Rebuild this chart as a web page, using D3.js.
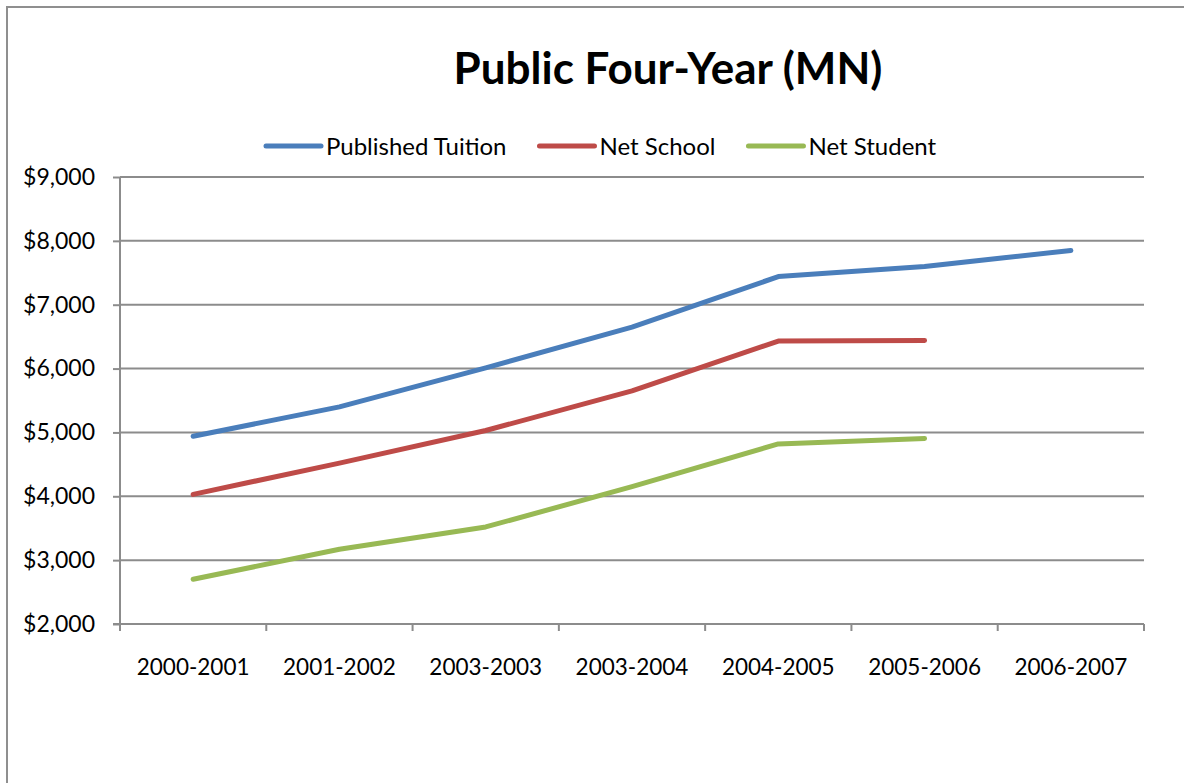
<!DOCTYPE html>
<html>
<head>
<meta charset="utf-8">
<script src="https://cdn.jsdelivr.net/npm/d3@7"></script>
<style>
  html, body { margin: 0; padding: 0; background: #fff; }
  svg { display: block; font-family: Carlito, Calibri, Lato, sans-serif; }
</style>
</head>
<body>
<svg id="chart" width="1184" height="783"></svg>
<script>
const categories = ["2000-2001", "2001-2002", "2003-2003", "2003-2004", "2004-2005", "2005-2006", "2006-2007"];
const publishedTuition = [4940, 5400, 6010, 6650, 7440, 7600, 7850];
const netSchool = [4030, 4520, 5030, 5650, 6430, 6440, null];
const netStudent = [2700, 3170, 3520, 4150, 4820, 4905, null];
const seriesNames = ["Published Tuition", "Net School", "Net Student"];
const seriesColors = ["#4A7EBB", "#BE4B48", "#98B954"];
const yTicks = [2000, 3000, 4000, 5000, 6000, 7000, 8000, 9000];
const titleText = "Public Four-Year (MN)";

const seriesValues = [publishedTuition, netSchool, netStudent];

const svg = d3.select("#chart");
const margin = { left: 120, right: 1144, top: 177, bottom: 624 };
const gridColor = "#8c8c8c";

// outer chart border (left and top visible)
svg.append("path")
  .attr("d", "M7,800 L7,7 L1200,7")
  .attr("fill", "none")
  .attr("stroke", "#8f8f8f")
  .attr("stroke-width", 2);

const x = d3.scaleBand().domain(categories).range([margin.left, margin.right]).padding(0);
const y = d3.scaleLinear().domain([2000, 9000]).range([margin.bottom, margin.top]);

// gridlines
svg.append("g").selectAll("line").data(yTicks).join("line")
  .attr("x1", margin.left).attr("x2", margin.right)
  .attr("y1", d => y(d)).attr("y2", d => y(d))
  .attr("stroke", gridColor).attr("stroke-width", 2);

// y axis
const yAxis = d3.axisLeft(y).tickValues(yTicks).tickSize(7).tickPadding(18)
  .tickFormat(d => "$" + d3.format(",")(d));
const gy = svg.append("g").attr("transform", `translate(${margin.left},0)`).call(yAxis);
gy.select(".domain").remove();
gy.selectAll(".tick line").attr("stroke", gridColor).attr("stroke-width", 2);
gy.selectAll(".tick text").attr("font-size", 23).attr("fill", "#000")
  .attr("font-family", "Lato, sans-serif");
svg.append("line")
  .attr("x1", margin.left).attr("x2", margin.left)
  .attr("y1", margin.top).attr("y2", margin.bottom + 7)
  .attr("stroke", gridColor).attr("stroke-width", 2);

// x axis
const gx = svg.append("g").attr("transform", `translate(0,${margin.bottom})`);
gx.append("line").attr("x1", margin.left - 7).attr("x2", margin.right)
  .attr("y1", 0).attr("y2", 0).attr("stroke", gridColor).attr("stroke-width", 2);
const boundaries = categories.map(c => x(c)).concat([x(categories[categories.length - 1]) + x.bandwidth()]);
gx.selectAll("line.tk").data(boundaries).join("line").attr("class", "tk")
  .attr("x1", d => d).attr("x2", d => d).attr("y1", 0).attr("y2", 7)
  .attr("stroke", gridColor).attr("stroke-width", 2);
gx.selectAll("text").data(categories).join("text")
  .attr("x", d => x(d) + x.bandwidth() / 2)
  .attr("y", 51)
  .attr("text-anchor", "middle")
  .attr("font-size", 22.5)
  .attr("font-family", "Lato, sans-serif")
  .attr("fill", "#000")
  .text(d => d);

// lines
const line = d3.line()
  .defined(d => d.v != null)
  .x(d => x(d.c) + x.bandwidth() / 2)
  .y(d => y(d.v));
seriesValues.forEach((vals, i) => {
  const data = categories.map((c, j) => ({ c, v: vals[j] }));
  svg.append("path").datum(data)
    .attr("d", line)
    .attr("fill", "none")
    .attr("stroke", seriesColors[i])
    .attr("stroke-width", 5)
    .attr("stroke-linecap", "round")
    .attr("stroke-linejoin", "round");
});

// title
svg.append("text")
  .attr("x", 668).attr("y", 84)
  .attr("text-anchor", "middle")
  .attr("font-size", 44)
  .attr("font-weight", "bold")
  .attr("font-family", "Lato, sans-serif")
  .attr("fill", "#000")
  .text(titleText);

// legend
let lx = 266;
const ly = 146;
seriesNames.forEach((name, i) => {
  svg.append("line")
    .attr("x1", lx).attr("x2", lx + 55).attr("y1", ly).attr("y2", ly)
    .attr("stroke", seriesColors[i]).attr("stroke-width", 5).attr("stroke-linecap", "round");
  const t = svg.append("text")
    .attr("x", lx + 60).attr("y", ly + 8.5)
    .attr("font-size", 24)
    .attr("font-family", "Lato, sans-serif")
    .attr("fill", "#000")
    .text(name);
  lx = lx + 60 + t.node().getComputedTextLength() + 33;
});
</script>
</body>
</html>
